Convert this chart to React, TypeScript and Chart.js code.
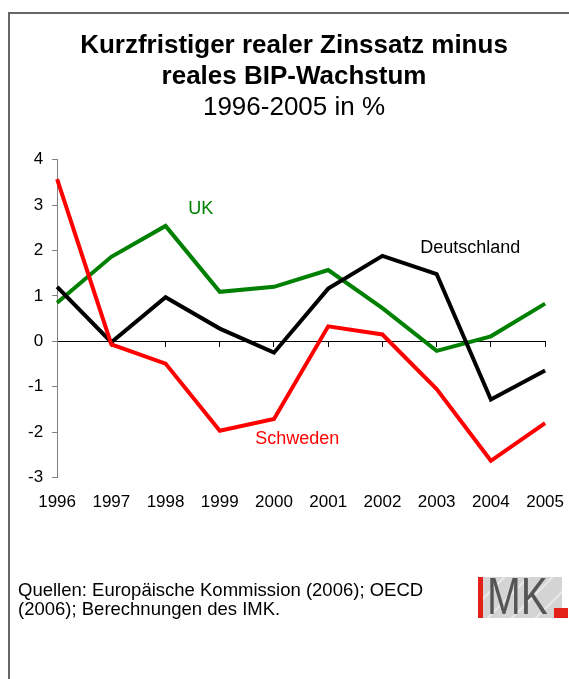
import React, { useEffect, useRef } from 'react';
import { Chart, registerables } from 'chart.js';

Chart.register(...registerables);

const FONT = "'Liberation Sans', Arial, Helvetica, sans-serif";

const YEARS = ['1996', '1997', '1998', '1999', '2000', '2001', '2002', '2003', '2004', '2005'];
const DEUTSCHLAND = [1.2, -0.02, 0.97, 0.28, -0.25, 1.16, 1.88, 1.48, -1.28, -0.64];
const UK = [0.85, 1.86, 2.54, 1.09, 1.2, 1.57, 0.73, -0.21, 0.11, 0.83];
const SCHWEDEN = [3.57, -0.07, -0.49, -1.97, -1.71, 0.33, 0.15, -1.05, -2.63, -1.8];

const Y_MIN = -3;
const Y_MAX = 4;
const Y_STEP = 1;

const TITLE_LINES = ['Kurzfristiger realer Zinssatz minus', 'reales BIP-Wachstum'];
const SUBTITLE = '1996-2005 in %';
const SOURCE_LINES = ['Quellen: Europäische Kommission (2006); OECD', '(2006); Berechnungen des IMK.'];

const COLOR_DE = '#000000';
const COLOR_UK = '#008000';
const COLOR_SE = '#ff0000';

// series name labels, placed in data coordinates (category index, value)
const SERIES_LABELS = [
  { text: 'UK', x: 2.65, y: 2.92, color: COLOR_UK },
  { text: 'Deutschland', x: 7.62, y: 2.05, color: COLOR_DE },
  { text: 'Schweden', x: 4.43, y: -2.14, color: COLOR_SE },
];

const seriesLabelPlugin = {
  id: 'seriesLabels',
  afterDatasetsDraw(chart: any) {
    const { ctx, scales } = chart;
    ctx.save();
    ctx.font = `18px ${FONT}`;
    ctx.textAlign = 'center';
    ctx.textBaseline = 'middle';
    SERIES_LABELS.forEach((l) => {
      ctx.fillStyle = l.color;
      ctx.fillText(l.text, scales.x.getPixelForValue(l.x), scales.y.getPixelForValue(l.y));
    });
    ctx.restore();
  },
};

export default function App() {
  const canvasRef = useRef<HTMLCanvasElement | null>(null);

  useEffect(() => {
    if (!canvasRef.current) return;
    const chart = new Chart(canvasRef.current, {
      type: 'line',
      data: {
        labels: YEARS,
        datasets: [
          { label: 'Schweden', data: SCHWEDEN, borderColor: COLOR_SE, backgroundColor: COLOR_SE, borderWidth: 4, pointRadius: 0, tension: 0, fill: false },
          { label: 'Deutschland', data: DEUTSCHLAND, borderColor: COLOR_DE, backgroundColor: COLOR_DE, borderWidth: 4, pointRadius: 0, tension: 0, fill: false },
          { label: 'UK', data: UK, borderColor: COLOR_UK, backgroundColor: COLOR_UK, borderWidth: 4, pointRadius: 0, tension: 0, fill: false },
        ],
      },
      options: {
        responsive: false,
        animation: false,
        devicePixelRatio: 1,
        layout: { padding: { left: 19, right: 0, top: 0, bottom: 161 } },
        plugins: {
          legend: { display: false },
          tooltip: { enabled: false },
          title: {
            display: true,
            text: TITLE_LINES,
            color: '#000',
            font: { family: FONT, size: 26, weight: 'bold', lineHeight: 1.2 },
            padding: { top: 30, bottom: 0 },
          },
          subtitle: {
            display: true,
            text: SUBTITLE,
            color: '#000',
            font: { family: FONT, size: 26, weight: 'normal', lineHeight: 1.2 },
            padding: { top: 0, bottom: 36 },
          },
        },
        scales: {
          x: {
            type: 'category',
            position: { y: 0 } as any,
            offset: false,
            ticks: { display: false },
            grid: { drawOnChartArea: false, drawTicks: true, tickLength: 5, color: '#000', lineWidth: 1 },
            border: { display: true, color: '#000', width: 1 },
          },
          x2: {
            type: 'category',
            labels: YEARS,
            position: 'bottom',
            offset: false,
            grid: { display: true, drawOnChartArea: false, drawTicks: true, tickLength: 10, color: 'rgba(0,0,0,0)' },
            border: { display: false },
            ticks: { color: '#000', font: { family: FONT, size: 17 }, padding: 5, maxRotation: 0, autoSkip: false },
          },
          y: {
            type: 'linear',
            min: Y_MIN,
            max: Y_MAX,
            ticks: { stepSize: Y_STEP, color: '#000', font: { family: FONT, size: 17 }, padding: 9 },
            grid: { drawOnChartArea: false, drawTicks: true, tickLength: 5, color: '#808080', lineWidth: 1 },
            border: { display: true, color: '#808080', width: 1 },
          },
        },
      },
      plugins: [seriesLabelPlugin],
    });
    return () => chart.destroy();
  }, []);

  return (
    <div style={{ position: 'absolute', left: 0, top: 0, width: 569, height: 679, overflow: 'hidden', background: '#fff' }}>
      <div style={{ position: 'absolute', left: 8, top: 12, width: 561, height: 667, borderTop: '2px solid #666', borderLeft: '2px solid #666', boxSizing: 'border-box' }} />
      <canvas ref={canvasRef} width={569} height={679} style={{ position: 'absolute', left: 0, top: 0, width: 569, height: 679 }} />
      <div style={{ position: 'absolute', left: 18, top: 580, fontFamily: FONT, fontSize: 18.5, lineHeight: '19px', color: '#000' }}>
        {SOURCE_LINES.map((l, i) => (<div key={i}>{l}</div>))}
      </div>
      <div style={{ position: 'absolute', left: 478, top: 577, width: 91, height: 41 }}>
        <div style={{ position: 'absolute', left: 0, top: 0, width: 5, height: 41, background: '#e32119' }} />
        <div style={{ position: 'absolute', left: 5, top: 0, width: 79, height: 41, background: 'repeating-linear-gradient(135deg, #d4d4d4 0px, #d4d4d4 14px, #f0f0f0 15px, #d4d4d4 17px)' }} />
        <div style={{ position: 'absolute', left: 9, top: -7, fontFamily: FONT, fontSize: 52, lineHeight: '52px', color: '#555', transform: 'scaleX(0.78)', transformOrigin: 'left top', letterSpacing: 0 }}>MK</div>
        <div style={{ position: 'absolute', left: 76, top: 31, width: 14, height: 10, background: '#e32119' }} />
      </div>
    </div>
  );
}
